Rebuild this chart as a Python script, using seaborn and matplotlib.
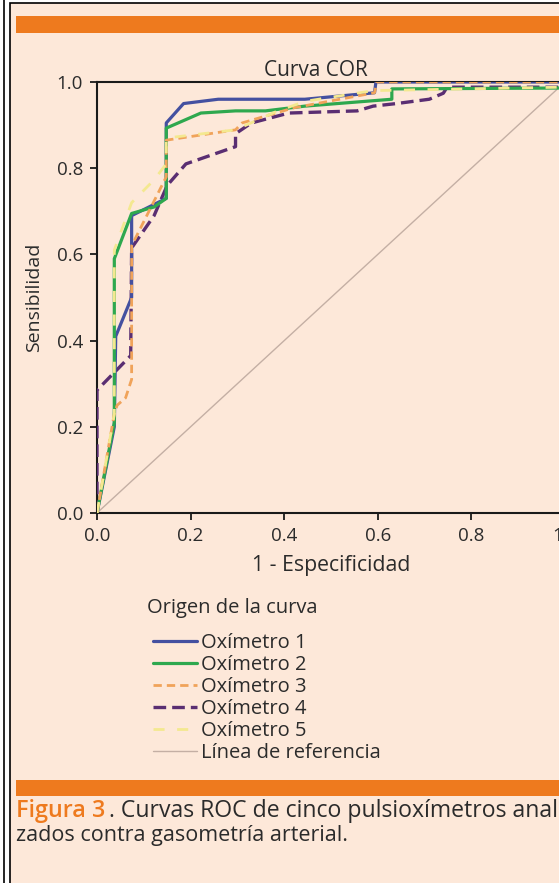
import matplotlib
matplotlib.use("Agg")
import matplotlib.pyplot as plt
from matplotlib.patches import Rectangle
from matplotlib.lines import Line2D
import seaborn as sns
import pandas as pd

# ---------------- data ----------------
series_names = ["Oxímetro 1", "Oxímetro 2", "Oxímetro 3", "Oxímetro 4", "Oxímetro 5"]

ox1_x = [0, 0.037, 0.040, 0.074, 0.074, 0.148, 0.148, 0.185, 0.259, 0.444, 0.593, 0.596, 1.0]
ox1_y = [0, 0.20, 0.41, 0.50, 0.69, 0.73, 0.905, 0.95, 0.96, 0.96, 0.975, 1.0, 1.0]

ox2_x = [0, 0.037, 0.037, 0.074, 0.122, 0.148, 0.148, 0.222, 0.296, 0.36, 0.444, 0.63, 0.63, 0.99, 1.0]
ox2_y = [0, 0.21, 0.59, 0.695, 0.71, 0.73, 0.893, 0.928, 0.933, 0.933, 0.944, 0.96, 0.984, 0.986, 1.0]

ox3_x = [0, 0.037, 0.043, 0.061, 0.074, 0.074, 0.111, 0.148, 0.148, 0.296, 0.31, 0.42, 0.593, 0.598, 1.0]
ox3_y = [0, 0.23, 0.25, 0.267, 0.31, 0.62, 0.70, 0.78, 0.865, 0.889, 0.905, 0.94, 0.975, 1.0, 1.0]

ox4_x = [0, 0, 0.072, 0.074, 0.122, 0.15, 0.19, 0.296, 0.296, 0.33, 0.41, 0.556, 0.59, 0.64, 0.71, 0.74, 0.748, 0.99, 1.0]
ox4_y = [0, 0.285, 0.365, 0.615, 0.69, 0.76, 0.81, 0.85, 0.88, 0.905, 0.928, 0.933, 0.944, 0.95, 0.96, 0.974, 0.988, 0.988, 1.0]

ox5_x = [0, 0.037, 0.037, 0.074, 0.122, 0.148, 0.148, 0.296, 0.38, 0.444, 0.59, 0.99, 1.0]
ox5_y = [0, 0.23, 0.61, 0.72, 0.773, 0.81, 0.87, 0.889, 0.93, 0.955, 0.98, 0.988, 1.0]

ref_x = [0, 1]
ref_y = [0, 1]

x_ticks = [0.0, 0.2, 0.4, 0.6, 0.8, 1.0]
y_ticks = [0.0, 0.2, 0.4, 0.6, 0.8, 1.0]
tick_labels = ["0.0", "0.2", "0.4", "0.6", "0.8", "1.0"]

title_text = "Curva COR"
xlabel_text = "1 - Especificidad"
ylabel_text = "Sensibilidad"
legend_title = "Origen de la curva"
ref_label = "Línea de referencia"
caption_head = "Figura 3"
caption_line1 = ". Curvas ROC de cinco pulsioxímetros anal"
caption_line2 = "zados contra gasometría arterial."

# ---------------- styling ----------------
sns.set_theme(style="white")
plt.rcParams["font.family"] = ["Open Sans", "DejaVu Sans"]

PEACH = "#FDE8D9"
ORANGE = "#EE7A1E"
TEXT = "#2b2b2b"

styles = {
    "Oxímetro 1": dict(color="#4450A0", lw=2.3, ls="-"),
    "Oxímetro 2": dict(color="#2EA84E", lw=2.3, ls="-"),
    "Oxímetro 3": dict(color="#F0A35A", lw=2.0, ls=(0, (3, 1.8))),
    "Oxímetro 4": dict(color="#5A2E72", lw=2.4, ls=(0, (3.8, 1.8))),
    "Oxímetro 5": dict(color="#F4E890", lw=2.0, ls=(0, (4.0, 4.5))),
}

W, H = 559, 883
fig = plt.figure(figsize=(W / 100, H / 100), dpi=100)
fig.patch.set_facecolor("white")


def fx(px):
    return px / W


def fy(py):
    return 1 - py / H


# page background / frame
fig.add_artist(Rectangle((fx(9.5), fy(900)), fx(700), (900 - 2.5) / H,
                         transform=fig.transFigure, facecolor=PEACH,
                         edgecolor="black", lw=1.2, zorder=-10))
fig.add_artist(Line2D([fx(3.5), fx(3.5)], [0, 1], transform=fig.transFigure,
                      color="black", lw=1.2, zorder=-9))
# orange bars
fig.add_artist(Rectangle((fx(16), fy(33)), fx(600), 17 / H, transform=fig.transFigure,
                         facecolor=ORANGE, edgecolor="none", zorder=-9))
fig.add_artist(Rectangle((fx(16), fy(796)), fx(600), 16 / H, transform=fig.transFigure,
                         facecolor=ORANGE, edgecolor="none", zorder=-9))

# axes
ax = fig.add_axes([fx(97), fy(513), 468 / W, 431 / H])
ax.set_facecolor(PEACH)

data = {
    "Oxímetro 1": (ox1_x, ox1_y),
    "Oxímetro 2": (ox2_x, ox2_y),
    "Oxímetro 3": (ox3_x, ox3_y),
    "Oxímetro 4": (ox4_x, ox4_y),
    "Oxímetro 5": (ox5_x, ox5_y),
}

sns.lineplot(x=ref_x, y=ref_y, ax=ax, color="#C4AFA4", lw=1.0, label=ref_label,
             sort=False, estimator=None, zorder=1)

order_draw = ["Oxímetro 4", "Oxímetro 1", "Oxímetro 2", "Oxímetro 3", "Oxímetro 5"]
for name in order_draw:
    xs, ys = data[name]
    st = styles[name]
    df = pd.DataFrame({"x": xs, "y": ys})
    sns.lineplot(data=df, x="x", y="y", ax=ax, sort=False, estimator=None,
                 color=st["color"], lw=st["lw"], linestyle=st["ls"], label=name, zorder=3)

ax.set_xlim(0, 1)
ax.set_ylim(0, 1)
ax.set_xticks(x_ticks)
ax.set_xticklabels(tick_labels)
ax.set_yticks(y_ticks)
ax.set_yticklabels(tick_labels)
for s in ax.spines.values():
    s.set_color("#1a1a1a")
    s.set_linewidth(1.5)
ax.tick_params(axis="both", direction="out", length=5, width=1.3, color="#1a1a1a",
               labelsize=13.5, labelcolor=TEXT, pad=5, bottom=True, left=True)
ax.set_title(title_text, fontsize=15, color=TEXT, pad=4, x=(316 - 97) / 468)
ax.set_xlabel(xlabel_text, fontsize=15.3, color=TEXT, labelpad=7)
ax.set_ylabel(ylabel_text, fontsize=14, color=TEXT, labelpad=10)
ax.get_legend().remove()

# legend in desired order
handles, labels = ax.get_legend_handles_labels()
hmap = dict(zip(labels, handles))
leg_order = series_names + [ref_label]
fig.text(fx(147), fy(608), legend_title, fontsize=14.5, color=TEXT, va="center", ha="left")
leg = fig.legend([hmap[l] for l in leg_order], leg_order, loc="upper left",
                 bbox_to_anchor=(fx(153), fy(633)), frameon=False,
                 fontsize=14.5, handlelength=2.2, handletextpad=0.2, labelspacing=0.1,
                 borderpad=0, borderaxespad=0)
for t in leg.get_texts():
    t.set_color(TEXT)

# caption
fig.canvas.draw()
t1 = fig.text(fx(16), fy(811), caption_head, color=ORANGE, fontsize=16.8,
              fontweight="semibold", va="center", ha="left")
fig.canvas.draw()
bb = t1.get_window_extent()
fig.text(bb.x1 / W + 0.006, fy(811), caption_line1, color=TEXT, fontsize=16.6, va="center", ha="left")
fig.text(fx(16), fy(836), caption_line2, color=TEXT, fontsize=15.5, va="center", ha="left")

fig.savefig("out.png", dpi=100, facecolor=fig.get_facecolor())
